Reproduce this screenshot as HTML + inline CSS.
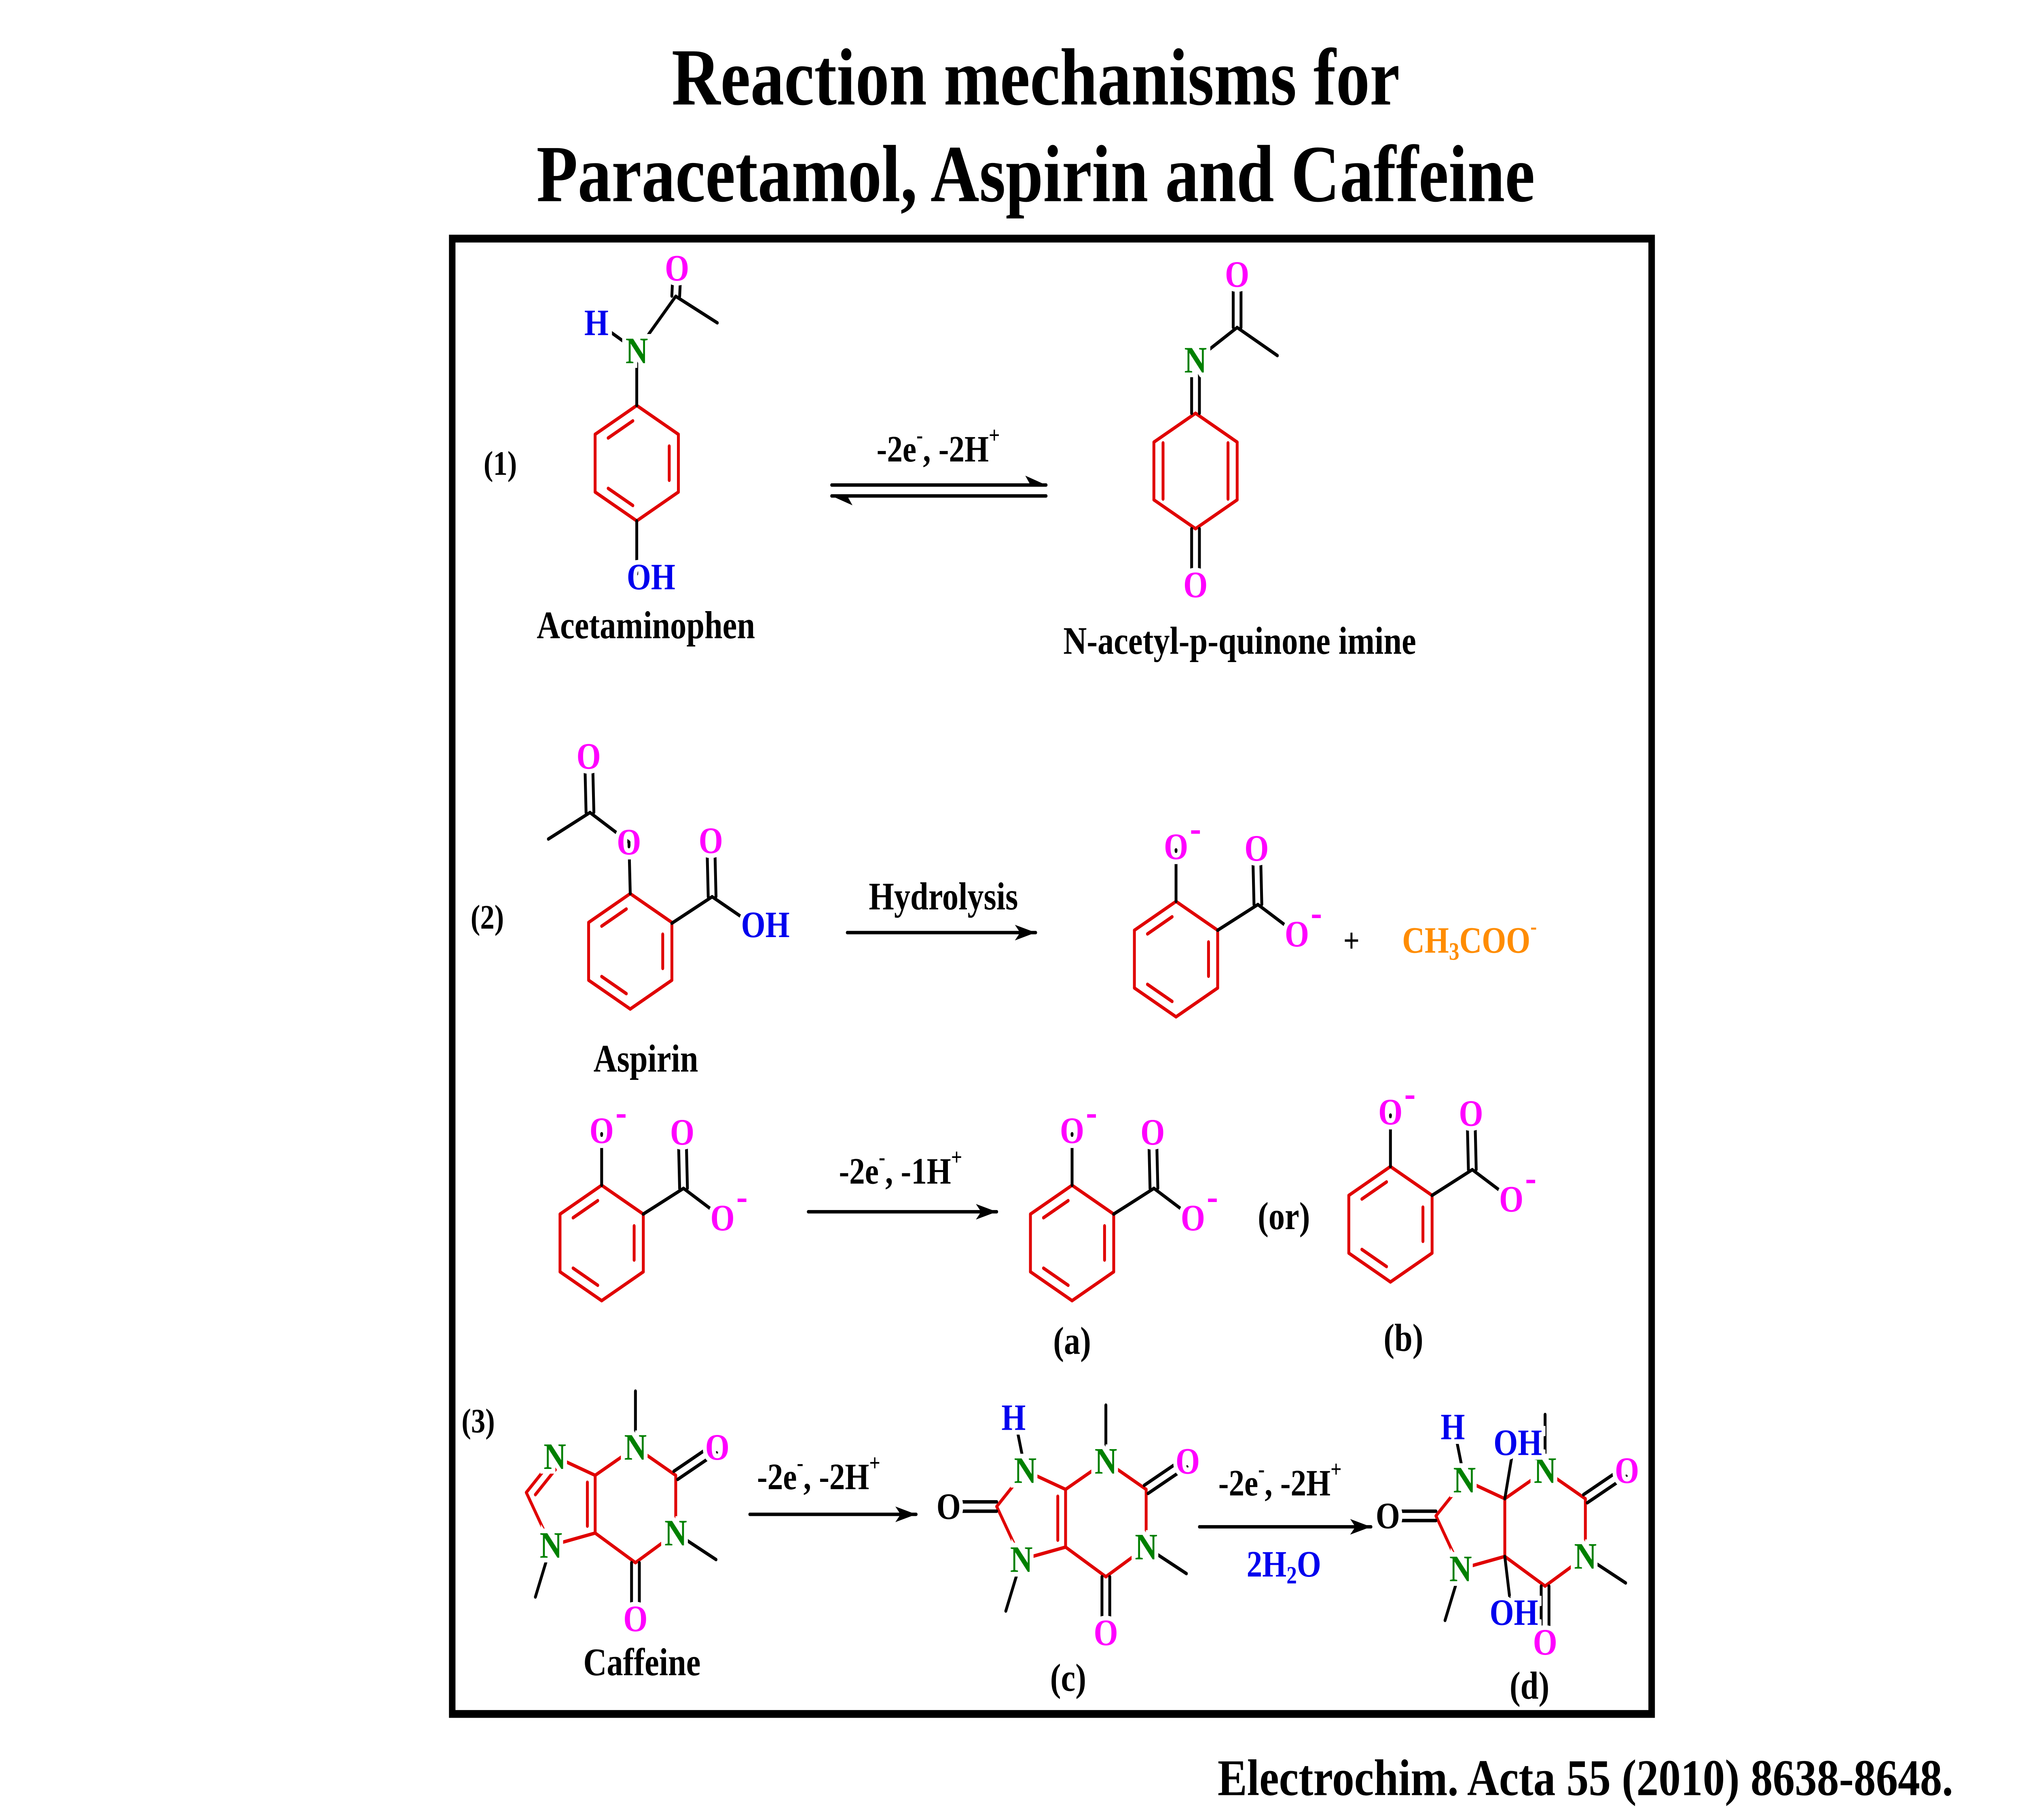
<!DOCTYPE html>
<html><head><meta charset="utf-8">
<style>
html,body{margin:0;padding:0;background:#fff;overflow:hidden;width:100%;height:100%;}
svg{display:block;width:100vw;height:100vh;}
text{font-family:"Liberation Serif",serif;font-weight:bold;}
</style></head>
<body>
<svg id="s" viewBox="0 0 1556 1167" preserveAspectRatio="none" xmlns="http://www.w3.org/2000/svg">
<rect width="1556" height="1167" fill="#fff"/>
<text x="797" y="67" font-size="52" text-anchor="middle">Reaction mechanisms for</text>
<text x="797" y="129" font-size="52" text-anchor="middle">Paracetamol, Aspirin and Caffeine</text>
<rect x="348" y="153" width="923" height="946" fill="none" stroke="#000" stroke-width="5"/>
<text x="937" y="1151" font-size="33" textLength="566" lengthAdjust="spacingAndGlyphs">Electrochim. Acta 55 (2010) 8638-8648.</text>
<g id="g" stroke-linecap="round"></g>
<g id="t"></g>
</svg>
<script>
const NS="http://www.w3.org/2000/svg";
const G=document.getElementById('g'),T=document.getElementById('t');
const R="#e00000",K="#000",M="#ff00ff",B="#0000ee",GR="#008000",O="#ff8c00";
const LF=25,AF=24,AR=24;
function L(x1,y1,x2,y2,c){const e=document.createElementNS(NS,'line');e.setAttribute('x1',x1);e.setAttribute('y1',y1);e.setAttribute('x2',x2);e.setAttribute('y2',y2);e.setAttribute('stroke',c||K);e.setAttribute('stroke-width',2.2);G.appendChild(e);}
function D(x1,y1,x2,y2,c,side){const dx=x2-x1,dy=y2-y1,l=Math.hypot(dx,dy),nx=-dy/l*3,ny=dx/l*3;if(side===undefined){L(x1+nx,y1+ny,x2+nx,y2+ny,c);L(x1-nx,y1-ny,x2-nx,y2-ny,c);}else{L(x1,y1,x2,y2,c);const s=side*2;L(x1+nx*s+dx*0.12,y1+ny*s+dy*0.12,x2+nx*s-dx*0.12,y2+ny*s-dy*0.12,c);}}
function X(x,y,s,c,fs,anchor,plain){const e=document.createElementNS(NS,'text');e.setAttribute('x',x);e.setAttribute('y',y);e.setAttribute('fill',c||K);e.setAttribute('font-size',fs||AF);e.setAttribute('text-anchor',anchor||'middle');e.setAttribute('dominant-baseline','central');if(!plain){e.setAttribute('stroke','#fff');e.setAttribute('stroke-width',6);e.setAttribute('paint-order','stroke');}e.innerHTML=s;T.appendChild(e);}
function ring(cx,cy,r,dbl){const v=[];for(let i=0;i<6;i++){const a=-Math.PI/2+i*Math.PI/3;v.push([cx+r*Math.cos(a),cy+r*Math.sin(a)]);}
for(let i=0;i<6;i++){const p=v[i],q=v[(i+1)%6];L(p[0],p[1],q[0],q[1],R);
if(dbl.includes(i)){const k=0.78;const p2=[cx+(p[0]-cx)*k,cy+(p[1]-cy)*k],q2=[cx+(q[0]-cx)*k,cy+(q[1]-cy)*k];const dx=q2[0]-p2[0],dy=q2[1]-p2[1];L(p2[0]+dx*.12,p2[1]+dy*.12,q2[0]-dx*.12,q2[1]-dy*.12,R);}}return v;}
function arrow(x1,x2,y,dir){L(x1,y,x2,y,K);const tip=dir>0?x2:x1;const e=document.createElementNS(NS,'polygon');e.setAttribute('points',`${tip},${y} ${tip-dir*16},${y-5} ${tip-dir*12},${y} ${tip-dir*16},${y+5}`);G.appendChild(e);}
function halfarrow(x1,x2,y,dir){L(x1,y,x2,y,K);const tip=dir>0?x2:x1;const e=document.createElementNS(NS,'polygon');e.setAttribute('points',dir>0?`${tip},${y} ${tip-16},${y-6} ${tip-12},${y}`:`${tip},${y} ${tip+16},${y+6} ${tip+12},${y}`);G.appendChild(e);}
const sup=s=>`<tspan font-size='15' dy='-9'>${s}</tspan>`;

ring(490,297,37,[1,3,5]);
L(490,260,490,225,K);L(490,225,460,207,K);L(490,225,520,190,K);D(520,190,521,172,K);L(520,190,552,207,K);
L(490,334,490,368,K);
X(490,225,"N",GR);X(459,207,"H",B);X(521,172,"O",M);X(501,370,"OH",B);
X(497,401,"Acetaminophen",K,LF,'middle',true);
X(385,297,"(1)",K,22,'middle',true);
halfarrow(640,805,311,1);halfarrow(640,805,318,-1);
X(722,288,"-2e"+sup("-")+"<tspan dy='9'>, -2H</tspan>"+sup("+"),K,AR,'middle',true);
ring(920,302,37,[]);
L(895,284,895,320,R);L(945,284,945,320,R);
D(920,265,920,231,K);L(920,231,952,210,K);D(952,210,952,176,K);L(952,210,983,228,K);
D(920,339,920,374,K);
X(920,231,"N",GR);X(952,176,"O",M);X(920,375,"O",M);
X(954,411,"N-acetyl-p-quinone imine",K,LF,'middle',true);

ring(485,610,37,[1,3,5]);
L(485,573,484,540,K);L(484,540,454,521,K);D(454,521,453,486,K);L(454,521,422,538,K);
L(517,592,548,575,K);D(548,575,547,540,K);L(548,575,576,591,K);
X(484,540,"O",M);X(453,485,"O",M);X(547,539,"O",M);X(589,593,"OH",B);
X(497,679,"Aspirin",K,LF,'middle',true);
X(375,588,"(2)",K,22,'middle',true);
arrow(652,797,598,1);
X(726,575,"Hydrolysis",K,LF,'middle',true);
function sal(cx,cy){ring(cx,cy,37,[1,3,5]);L(cx,cy-37,cx,cy-70,K);L(cx+32,cy-18.5,cx+63,cy-35,K);D(cx+63,cy-35,cx+62,cy-70,K);L(cx+63,cy-35,cx+90,cy-18,K);
X(cx,cy-72,"O",M);X(cx+15,cy-84,"-",M,26);X(cx+62,cy-71,"O",M);X(cx+93,cy-16,"O",M);X(cx+108,cy-30,"-",M,26);}
sal(905,615);
X(1040,603,"+",K,22,'middle',true);
X(1079,603,"CH<tspan font-size='16' dy='7'>3</tspan><tspan dy='-7'>COO</tspan>"+sup("-"),O,AF,'start',true);
sal(463,797);
arrow(622,767,777,1);
X(693,751,"-2e"+sup("-")+"<tspan dy='9'>, -1H</tspan>"+sup("+"),K,AR,'middle',true);
sal(825,797);sal(1070,785);
X(988,780,"(or)",K,LF,'middle',true);
X(825,860,"(a)",K,LF,'middle',true);X(1080,858,"(b)",K,LF,'middle',true);

function caff(ox,oy,mode){const p=(x,y)=>[x+ox,y+oy];
const N3=p(489,928),C2=p(520,946),N1=p(520,983),C6=p(489,1002),C5=p(458,983),C4=p(458,946),N9=p(427,934),C8=p(405,957),N7=p(424,991);
L(...N3,...C2,R);L(...C2,...N1,R);L(...N1,...C6,R);L(...C6,...C5,R);L(...C4,...N3,R);
if(mode==='d')L(...C5,...C4,R);else D(...C5,...C4,R,-1);
L(...C4,...N9,R);L(...C8,...N7,R);L(...N7,...C5,R);
if(mode==='a')D(...N9,...C8,R,-1);else L(...N9,...C8,R);
L(N3[0],N3[1],N3[0],N3[1]-36,K);D(C2[0],C2[1],C2[0]+30,C2[1]-17,K);L(N1[0],N1[1],N1[0]+31,N1[1]+17,K);
D(C6[0],C6[1],C6[0],C6[1]+35,K);L(N7[0],N7[1],N7[0]-12,N7[1]+33,K);
X(...N3,"N",GR);X(...N1,"N",GR);X(...N9,"N",GR);X(...N7,"N",GR);
X(C2[0]+32,C2[1]-18,"O",M);X(C6[0],C6[1]+36,"O",M);
if(mode!=='a'){D(C8[0],C8[1],C8[0]-30,C8[1],K);X(C8[0]-37,C8[1],"O",K);L(N9[0],N9[1],N9[0]-6,N9[1]-25,K);X(N9[0]-9,N9[1]-34,"H",B);}
if(mode==='d'){L(C4[0],C4[1],C4[0]+6,C4[1]-30,K);X(C4[0]+10,C4[1]-36,"OH",B);L(C5[0],C5[1],C5[0]+4,C5[1]+28,K);X(C5[0]+7,C5[1]+36,"OH",B);}
}
caff(0,0,'a');caff(362,9,'c');caff(700,15,'d');
X(494,1066,"Caffeine",K,LF,'middle',true);X(822,1076,"(c)",K,LF,'middle',true);X(1177,1081,"(d)",K,LF,'middle',true);
X(368,911,"(3)",K,22,'middle',true);
arrow(577,705,971,1);
X(630,947,"-2e"+sup("-")+"<tspan dy='9'>, -2H</tspan>"+sup("+"),K,AR,'middle',true);
arrow(923,1055,979,1);
X(985,951,"-2e"+sup("-")+"<tspan dy='9'>, -2H</tspan>"+sup("+"),K,AR,'middle',true);
X(988,1003,"2H<tspan font-size='16' dy='7'>2</tspan><tspan dy='-7'>O</tspan>",B,AF,'middle',true);
</script>
</body></html>
